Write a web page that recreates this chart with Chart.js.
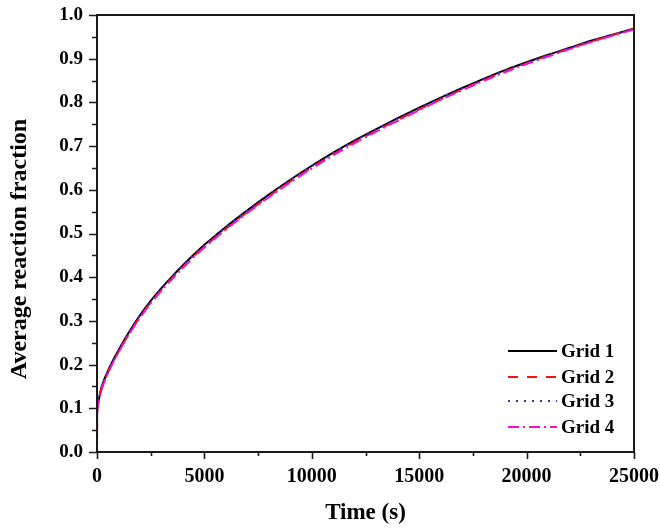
<!DOCTYPE html>
<html>
<head>
<meta charset="utf-8">
<script src="https://cdn.jsdelivr.net/npm/chart.js@4"></script>
<style>
html,body{margin:0;padding:0;background:#fff;}
#wrap{width:660px;height:531px;position:relative;}
</style>
</head>
<body>
<div id="wrap"><canvas id="c" width="660" height="531"></canvas></div>
<script>
const times = [0, 5, 50, 150, 300, 450, 600, 800, 1000, 1500, 2000, 2500, 3000, 3500, 4000, 4500, 5000, 6000, 7000, 8000, 9000, 10000, 11000, 12000, 13000, 14000, 15000, 16000, 17000, 18000, 19000, 20000, 21000, 22000, 23000, 24000, 25000];
const grid1 = [0, 0.090, 0.113, 0.136, 0.161, 0.179, 0.195, 0.215, 0.233, 0.275, 0.313, 0.346, 0.375, 0.402, 0.4275, 0.4515, 0.474, 0.515, 0.553, 0.589, 0.623, 0.655, 0.685, 0.713, 0.739, 0.764, 0.788, 0.811, 0.833, 0.854, 0.874, 0.892, 0.909, 0.925, 0.941, 0.955, 0.969];
const grid2 = [0, 0.088, 0.110, 0.133, 0.157, 0.175, 0.191, 0.211, 0.229, 0.271, 0.309, 0.342, 0.371, 0.398, 0.4235, 0.4475, 0.470, 0.511, 0.549, 0.585, 0.619, 0.651, 0.681, 0.709, 0.735, 0.760, 0.784, 0.807, 0.830, 0.851, 0.871, 0.889, 0.907, 0.923, 0.939, 0.954, 0.968];
const grid3 = [0, 0.090, 0.112, 0.135, 0.160, 0.178, 0.194, 0.214, 0.232, 0.274, 0.312, 0.345, 0.374, 0.401, 0.4265, 0.4505, 0.473, 0.514, 0.552, 0.588, 0.622, 0.654, 0.684, 0.712, 0.738, 0.763, 0.787, 0.810, 0.832, 0.853, 0.873, 0.891, 0.908, 0.924, 0.940, 0.954, 0.969];
const grid4 = [0, 0.087, 0.109, 0.132, 0.156, 0.174, 0.190, 0.210, 0.228, 0.270, 0.307, 0.340, 0.369, 0.396, 0.4215, 0.4455, 0.468, 0.509, 0.547, 0.583, 0.617, 0.649, 0.679, 0.707, 0.733, 0.758, 0.782, 0.806, 0.828, 0.849, 0.869, 0.888, 0.905, 0.922, 0.938, 0.953, 0.967];
const seriesNames = ['Grid 1', 'Grid 2', 'Grid 3', 'Grid 4'];
const xTicks = [0, 5000, 10000, 15000, 20000, 25000];
const yTicks = [0.0, 0.1, 0.2, 0.3, 0.4, 0.5, 0.6, 0.7, 0.8, 0.9, 1.0];
const xTitle = 'Time (s)';
const yTitle = 'Average reaction fraction';

const FONT = "'Liberation Serif', 'Times New Roman', serif";

function pts(ys){ return times.map((t,i)=>({x:t,y:ys[i]})); }

const styles = [
  {color:'#000000', dash:[], width:2},
  {color:'#ff1010', dash:[10,9], width:2},
  {color:'#3a2fb8', dash:[2,6], width:2.2},
  {color:'#f010d0', dash:[11,4,2,4], width:2}
];
const allData = [grid1, grid2, grid3, grid4];

const datasets = allData.map((d,i)=>({
  label: seriesNames[i],
  data: pts(d),
  borderColor: styles[i].color,
  borderDash: styles[i].dash,
  borderWidth: styles[i].width,
  pointRadius: 0,
  fill: false,
  cubicInterpolationMode: 'monotone',
  order: [4,3,2,1][i]
}));

const framePlugin = {
  id: 'frame',
  afterDatasetsDraw(chart){
    const {ctx, chartArea:a, scales} = chart;
    ctx.save();
    ctx.strokeStyle = '#1a1a1a';
    ctx.lineWidth = 2;
    ctx.strokeRect(a.left, a.top, a.right - a.left, a.bottom - a.top);
    const xs = scales.x, ys = scales.y;
    ctx.lineWidth = 1.6;
    ctx.beginPath();
    for (let v = 0; v <= 25000; v += 2500) {
      const px = Math.round(xs.getPixelForValue(v)) + 0.5;
      const len = (v % 5000 === 0) ? 7 : 4;
      ctx.moveTo(px, a.bottom); ctx.lineTo(px, a.bottom + len);
    }
    for (let k = 0; k <= 20; k++) {
      const v = k * 0.05;
      const py = Math.round(ys.getPixelForValue(v)) + 0.5;
      const len = (k % 2 === 0) ? 8 : 5;
      ctx.moveTo(a.left, py); ctx.lineTo(a.left - len, py);
    }
    ctx.stroke();

    // y axis title
    ctx.save();
    ctx.fillStyle = '#000';
    ctx.font = "bold 24px " + FONT;
    ctx.textAlign = 'center';
    ctx.textBaseline = 'middle';
    ctx.translate(20, 249);
    ctx.rotate(-Math.PI / 2);
    ctx.fillText(yTitle, 0, 0);
    ctx.restore();

    // legend
    const lx0 = 508, lx1 = 557, tx = 561;
    const rowY = [351, 377, 401, 427];
    ctx.font = "bold 19px " + FONT;
    ctx.textBaseline = 'middle';
    ctx.textAlign = 'left';
    ctx.fillStyle = '#000';
    chart.data.datasets.forEach((ds,i)=>{
      ctx.save();
      ctx.strokeStyle = ds.borderColor;
      ctx.lineWidth = ds.borderWidth;
      ctx.setLineDash(ds.borderDash);
      ctx.beginPath();
      ctx.moveTo(lx0, rowY[i]); ctx.lineTo(lx1, rowY[i]);
      ctx.stroke();
      ctx.restore();
      ctx.fillText(ds.label, tx, rowY[i] + 1);
    });
    ctx.restore();
  }
};

new Chart(document.getElementById('c'), {
  type: 'line',
  data: { datasets },
  plugins: [framePlugin],
  options: {
    responsive: false,
    animation: false,
    devicePixelRatio: 1,
    layout: { padding: 0 },
    plugins: { legend: { display: false }, tooltip: { enabled: false } },
    scales: {
      x: {
        type: 'linear',
        min: 0, max: 25000,
        afterBuildTicks(s){ s.ticks = xTicks.map(v=>({value:v})); },
        afterFit(s){ s.height = 79; s.paddingRight = 26; s.paddingLeft = 0; },
        grid: { display: false, drawTicks: false },
        border: { display: false },
        ticks: {
          padding: 13,
          color: '#000',
          font: { family: FONT, size: 20, weight: 'bold' },
          callback: v => String(v)
        },
        title: {
          display: true, text: xTitle, color: '#000',
          font: { family: FONT, size: 23, weight: 'bold' },
          padding: { top: 0, bottom: 4 }
        }
      },
      y: {
        type: 'linear',
        min: 0, max: 1.0,
        afterBuildTicks(s){ s.ticks = yTicks.map(v=>({value:v})); },
        afterFit(s){ s.width = 97; s.paddingTop = 15; s.paddingBottom = 0; },
        grid: { display: false, drawTicks: false },
        border: { display: false },
        ticks: {
          padding: 14,
          color: '#000',
          font: { family: FONT, size: 19, weight: 'bold' },
          callback: v => Number(v).toFixed(1)
        },
        title: { display: false }
      }
    }
  }
});
</script>
</body>
</html>
